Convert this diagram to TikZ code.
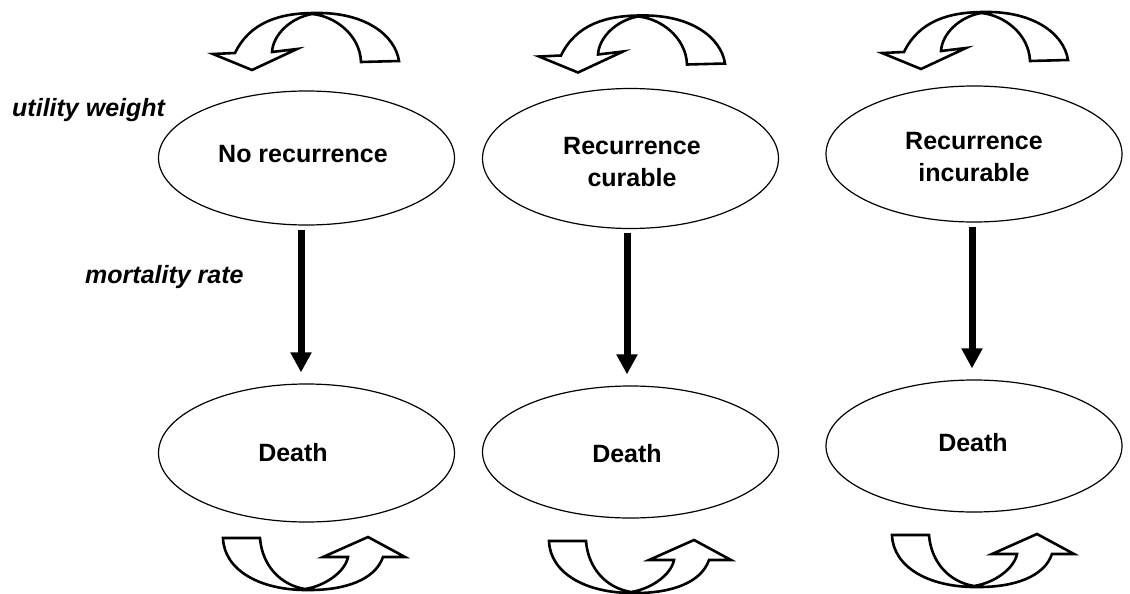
\documentclass[tikz,border=0pt]{standalone}
\usepackage{fontspec}
\setmainfont{Liberation Sans}
\usetikzlibrary{arrows.meta,shapes.geometric}
\begin{document}
\begin{tikzpicture}[x=1pt,y=-1pt,
  state/.style={draw, line width=1.2pt, ellipse, inner sep=0pt,
                minimum width=296pt},
  lab/.style={font=\bfseries\fontsize{25}{32}\selectfont, inner sep=0pt, align=center},
  side/.style={font=\bfseries\itshape\fontsize{25}{30}\selectfont, inner sep=0pt, anchor=base west},
  flow/.style={line width=7pt, -{Triangle[width=20pt,length=20pt]}},
  loopline/.style={draw, line width=2.6pt, line join=miter}
]
\useasboundingbox (0,0) rectangle (1130,594);

% curved self-loop arrows: one over each state, one under each death state
\tikzset{
  uturn top/.pic={
    \draw[loopline] (235,53) .. controls (250,22) and (280,13) .. (315,13)
      .. controls (365,12) and (395,35) .. (399,61) -- (361,62)
      .. controls (360,35) and (335,16) .. (312,14)
      .. controls (290,18) and (273,35) .. (272,52)
      -- (297,49) -- (252,70) -- (213,54) -- cycle;
  },
  uturn bottom/.pic={
    \draw[loopline] (223,538) -- (260,538)
      .. controls (262,565) and (280,585) .. (305,589)
      .. controls (325,586) and (345,572) .. (348,557)
      -- (323,557) -- (368,537) -- (405,557) -- (383,557)
      .. controls (375,580) and (345,590) .. (310,590)
      .. controls (260,591) and (224,570) .. (223,538) -- cycle;
  }
}

% states
\node[state, minimum height=134pt] (n1) at (306.5,158) {};
\node[state, minimum height=140pt] (n2) at (630.5,158.5) {};
\node[state, minimum height=136pt] (n3) at (974,154) {};
\node[state, minimum height=138pt] (d1) at (306.5,453) {};
\node[state, minimum height=132pt] (d2) at (630.5,452) {};
\node[state, minimum height=132pt] (d3) at (974,446) {};

% state labels
\node[lab, anchor=base] (t1) at (303,162) {No recurrence};
\node[lab] (t2) at (632,162.5) {Recurrence\\curable};
\node[lab] (t3) at (974,157.5) {Recurrence\\incurable};
\node[lab, anchor=base] (dt1) at (293,461) {Death};
\node[lab, anchor=base] (dt2) at (627,462) {Death};
\node[lab, anchor=base] (dt3) at (973,451) {Death};

% side annotations
\node[side] (uw) at (12,117) {utility weight};
\node[side] (mr) at (85,283) {mortality rate};

% transitions to death
\draw[flow] ([xshift=-5.5pt,yshift=-4pt]n1.south) -- ([xshift=-5.5pt,yshift=11pt]d1.north);
\draw[flow] ([xshift=-3.5pt,yshift=-4pt]n2.south) -- ([xshift=-3.5pt,yshift=11pt]d2.north);
\draw[flow] ([xshift=-2pt,yshift=-4pt]n3.south) -- ([xshift=-2pt,yshift=11pt]d3.north);

% self-loops
\pic at (0,0) {uturn top};
\pic at (326,2.5) {uturn top};
\pic at (669,-1) {uturn top};
\pic at (0,0) {uturn bottom};
\pic at (326,3) {uturn bottom};
\pic at (669,-3) {uturn bottom};
\end{tikzpicture}
\end{document}
